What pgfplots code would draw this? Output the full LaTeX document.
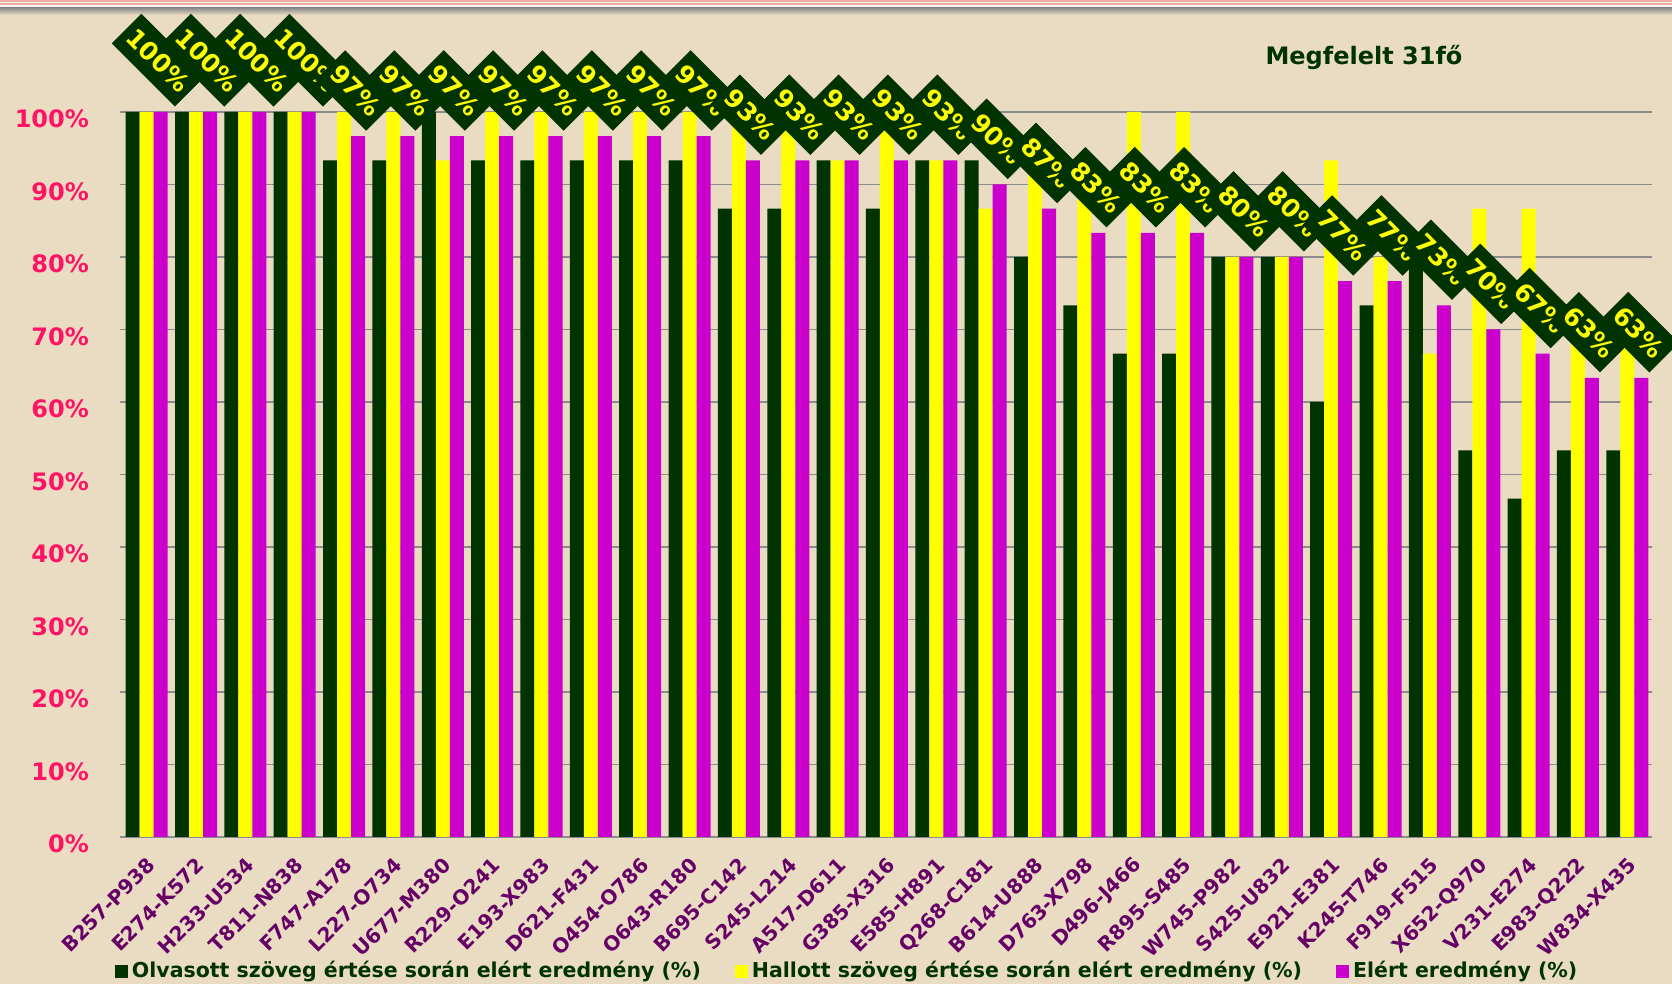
\documentclass[border=0pt]{standalone}
\usepackage{fontspec}
\setmainfont{DejaVu Sans}
\usepackage{graphicx}
\usepackage{pgfplots}
\pgfplotsset{compat=1.18}
\usepackage{pgfplotstable}
\definecolor{bgc}{RGB}{233,220,195}
\definecolor{dkg}{RGB}{0,51,0}
\definecolor{ylw}{RGB}{255,255,0}
\definecolor{mag}{RGB}{204,0,204}
\definecolor{pur}{RGB}{102,0,102}
\definecolor{pnk}{RGB}{255,20,100}
\definecolor{grd}{RGB}{140,140,140}
\definecolor{salm}{RGB}{238,175,160}
\pgfplotsset{/pgf/number format/assume math mode=true}

\pgfplotstableread{
x g y m
0 100 100 100
1 100 100 100
2 100 100 100
3 100 100 100
4 93.33 100 96.67
5 93.33 100 96.67
6 100 93.33 96.67
7 93.33 100 96.67
8 93.33 100 96.67
9 93.33 100 96.67
10 93.33 100 96.67
11 93.33 100 96.67
12 86.67 100 93.33
13 86.67 100 93.33
14 93.33 93.33 93.33
15 86.67 100 93.33
16 93.33 93.33 93.33
17 93.33 86.67 90
18 80 93.33 86.67
19 73.33 93.33 83.33
20 66.67 100 83.33
21 66.67 100 83.33
22 80 80 80
23 80 80 80
24 60 93.33 76.67
25 73.33 80 76.67
26 80 66.67 73.33
27 53.33 86.67 70
28 46.67 86.67 66.67
29 53.33 73.33 63.33
30 53.33 73.33 63.33
}\data

\begin{document}
\begin{tikzpicture}
\path[use as bounding box, fill=bgc] (-60pt,-73.5pt) rectangle (776pt,418.5pt);
\fill[salm] (-60pt,417.65pt) rectangle (776pt,418.5pt);
\fill[white!80!salm] (-60pt,416.85pt) rectangle (776pt,417.65pt);
\fill[salm] (-60pt,416pt) rectangle (776pt,416.85pt);
\fill[white!85!salm] (-60pt,414.5pt) rectangle (776pt,416pt);
\shade[top color=gray!90, bottom color=bgc] (-60pt,411pt) rectangle (776pt,414.5pt);
\begin{axis}[
  at={(0,0)}, anchor=south west, scale only axis,
  width=766pt, height=362.5pt,
  xmin=-0.54, xmax=30.5, ymin=0, ymax=100,
  ybar, bar width=7pt,
  clip=false,
  axis x line*=bottom, axis y line*=left,
  y axis line style={draw=none},
  x axis line style={draw=grd, line width=1pt},
  major tick length=0pt,
  ytick={0,10,...,100},
  yticklabel={\pgfmathprintnumber{\tick}\%},
  yticklabel style={font=\bfseries\fontsize{12}{14}\selectfont, text=pnk, xshift=-12pt, yshift=-3.5pt},
  xtick={0,...,30},
  xticklabels={B257-P938,E274-K572,H233-U534,T811-N838,F747-A178,L227-O734,U677-M380,R229-O241,E193-X983,D621-F431,O454-O786,O643-R180,B695-C142,S245-L214,A517-D611,G385-X316,E585-H891,Q268-C181,B614-U888,D763-X798,D496-J466,R895-S485,W745-P982,S425-U832,E921-E381,K245-T746,F919-F515,X652-Q970,V231-E274,E983-Q222,W834-X435},
  xticklabel style={font=\bfseries\fontsize{10}{12}\selectfont, text=pur, xshift=4.75pt, yshift=-10pt, rotate=45, anchor=east},
  ymajorgrids, grid style={draw=grd, line width=0.75pt},
  legend style={at={(-0.0033,-0.185)}, anchor=west, draw=none, fill=none, inner sep=0pt, outer sep=0pt,
    legend columns=-1, font=\bfseries\fontsize{10.25}{12}\selectfont, text=dkg,
    /tikz/every even column/.append style={column sep=15pt}},
  legend cell align=left,
  legend image code/.code={\fill[#1] (0pt,-3.25pt) rectangle (6.5pt,3.25pt);},
]
\addplot[fill=dkg, draw=none, bar shift=-7pt] table[x=x,y=g]{\data};
\addplot[fill=ylw, draw=none, bar shift=0pt] table[x=x,y=y]{\data};
\addplot[fill=mag, draw=none, bar shift=7pt,
  nodes near coords={\rotatebox{-45}{\fboxsep=0pt\colorbox{dkg}{\hspace{3pt}\rule[-6pt]{0pt}{21pt}\textcolor{ylw}{\pgfmathprintnumber[fixed,precision=0]{\pgfplotspointmeta}\%}\hspace{3pt}}}},
  every node near coord/.append style={inner sep=0pt, anchor=south, xshift=-1.25pt, yshift=2.5pt, font=\bfseries\fontsize{12.5}{15}\selectfont}
  ] table[x=x,y=m]{\data};
\legend{Olvasott szöveg értése során elért eredmény (\%), Hallott szöveg értése során elért eredmény (\%), Elért eredmény (\%)}
\node[font=\bfseries\fontsize{12}{14}\selectfont, text=dkg] at (rel axis cs:0.812,1.0745) {Megfelelt 31fő};
\end{axis}
\end{tikzpicture}
\end{document}
